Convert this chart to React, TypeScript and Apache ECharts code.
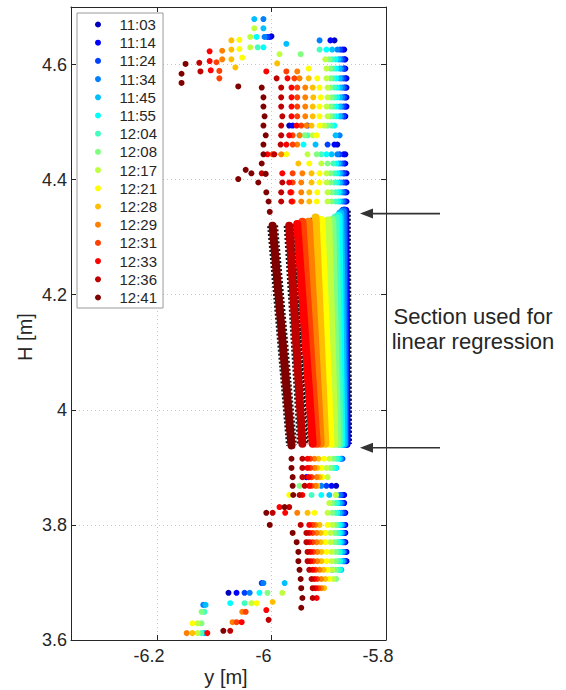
import React, { useEffect, useRef } from "react";
import * as echarts from "echarts";

// ---------- data ----------
const times = ["11:03", "11:14", "11:24", "11:34", "11:45", "11:55", "12:04", "12:08", "12:17", "12:21", "12:28", "12:29", "12:31", "12:33", "12:36", "12:41"];

// jet(16) colour map
const colors = ["#0000BF", "#0000FF", "#0040FF", "#0080FF", "#00BFFF", "#00FFFF", "#40FFBF", "#80FF80", "#BFFF40", "#FFFF00", "#FFBF00", "#FF8000", "#FF4000", "#FF0000", "#BF0000", "#800000"];

// Upper measurement rows (H, m)
const upperH = [4.642, 4.626, 4.609, 4.593, 4.576, 4.560, 4.543, 4.527, 4.510, 4.494, 4.477, 4.461, 4.444, 4.428, 4.411, 4.395, 4.378, 4.362];
// y positions (m) of each series on the upper rows
const upperY: (number | null)[][] = [
  [-5.890, -5.873, -5.871, -5.871, -5.869, -5.869, -5.869, -5.869, -5.871, -5.969, null, -5.885, -5.871, -5.871, -5.869, -5.869, -5.869, -5.869],
  [-5.897, -5.876, -5.873, -5.873, -5.871, -5.871, -5.871, -5.871, -5.873, -5.963, null, -5.890, -5.874, -5.873, -5.873, -5.871, -5.871, -5.871],
  [null, -5.880, -5.876, -5.874, -5.874, -5.873, -5.873, -5.874, -5.874, -5.937, null, -5.902, -5.881, -5.876, -5.874, -5.874, -5.873, -5.873],
  [-5.916, -5.885, -5.880, -5.878, -5.878, -5.876, -5.876, -5.878, -5.878, null, -5.881, null, -5.885, -5.880, -5.878, -5.878, -5.876, -5.876],
  [null, -5.894, -5.883, -5.881, -5.881, -5.880, -5.880, -5.881, -5.881, null, -5.888, -5.923, -5.895, -5.883, -5.881, -5.881, -5.880, -5.880],
  [null, -5.904, -5.888, -5.887, -5.887, -5.885, -5.885, -5.887, -5.887, -5.890, -5.951, -5.944, -5.904, -5.887, -5.885, -5.885, -5.883, -5.883],
  [null, -5.916, -5.894, -5.892, -5.892, -5.890, -5.890, -5.892, -5.892, -5.895, -5.937, null, -5.913, -5.892, -5.890, -5.890, -5.888, -5.888],
  [null, null, -5.899, -5.897, -5.897, -5.897, -5.895, -5.897, -5.897, -5.902, -5.942, null, -5.921, -5.902, -5.897, -5.897, -5.895, -5.895],
  [null, null, -5.906, -5.904, -5.904, -5.902, -5.902, -5.904, -5.902, -5.908, -5.928, null, -5.937, -5.913, -5.904, -5.904, -5.902, -5.902],
  [null, null, null, -5.935, -5.920, -5.916, -5.914, -5.916, -5.916, -5.916, -5.921, null, -5.974, -5.934, -5.916, -5.916, -5.920, -5.921],
  [null, null, null, null, -5.935, -5.928, -5.927, -5.928, -5.928, -5.930, null, null, null, -5.953, -5.930, -5.930, -5.934, -5.934],
  [null, null, null, null, -5.951, -5.941, -5.941, -5.941, -5.941, -5.939, -5.951, -5.955, -5.983, null, -5.946, -5.948, -5.948, -5.948],
  [null, null, null, null, -5.960, -5.955, -5.955, -5.955, -5.955, -5.948, -5.963, -5.963, -5.998, null, -5.963, -5.963, -5.965, -5.963],
  [null, null, null, null, -5.972, -5.965, -5.965, -5.965, -5.965, -5.956, -5.969, -5.974, -6.007, null, -5.981, -5.969, -5.967, -5.965],
  [null, null, null, null, -5.991, -5.983, -5.983, -5.983, -5.981, -5.983, -5.983, -5.984, -5.995, null, -6.017, -5.981, -5.983, -5.983],
  [null, null, null, null, null, -6.017, -6.014, -6.014, -6.012, -6.014, -6.010, -6.014, -6.014, -6.017, -6.035, -6.023, -6.009, -6.005],
];

// Lower measurement rows (H, m)
const lowerH = [3.915, 3.899, 3.883, 3.868, 3.852, 3.838, 3.821, 3.800, 3.786, 3.770, 3.753, 3.737, 3.722, 3.706, 3.690, 3.673, 3.656];
const lowerY: (number | null)[][] = [
  [null, null, null, -5.887, -5.873, -5.873, -5.871, -5.871, -5.871, -5.871, -5.869, -5.869, null, null, null, null, null],
  [null, null, -5.939, -5.895, -5.874, -5.874, -5.873, -5.873, -5.873, -5.873, -5.871, -5.871, null, null, null, null, null],
  [-5.876, null, null, -5.904, -5.878, -5.876, -5.874, -5.874, -5.874, -5.874, -5.873, -5.873, null, null, null, null, null],
  [-5.878, null, null, -5.913, -5.881, -5.878, -5.878, -5.876, -5.876, -5.876, -5.874, -5.874, -5.894, null, null, null, null],
  [-5.880, -5.887, null, null, -5.899, -5.881, -5.881, -5.878, -5.878, -5.878, -5.876, -5.876, -5.878, null, null, null, null],
  [-5.883, -5.888, null, null, -5.913, -5.885, -5.885, -5.881, -5.881, -5.881, -5.880, -5.880, -5.880, null, null, null, null],
  [-5.887, -5.892, null, null, -5.930, -5.888, -5.888, -5.885, -5.885, -5.885, -5.883, -5.883, -5.883, null, null, null, null],
  [-5.892, -5.897, null, -5.951, -5.887, -5.894, -5.894, -5.888, -5.890, -5.890, -5.888, -5.888, -5.888, -5.887, null, null, null],
  [-5.899, -5.904, -5.902, null, -5.888, -5.899, -5.902, -5.894, -5.897, -5.897, -5.895, -5.895, -5.894, -5.892, null, null, null],
  [-5.908, -5.913, -5.911, null, -5.969, null, -5.925, -5.902, -5.906, -5.906, -5.904, -5.904, -5.902, -5.899, null, null, null],
  [-5.918, -5.920, -5.916, -5.920, null, null, -5.937, -5.916, -5.914, -5.914, -5.913, -5.913, -5.909, -5.906, -5.908, null, null],
  [-5.925, -5.925, -5.921, -5.923, null, null, -5.955, -5.923, -5.921, -5.921, -5.920, -5.920, -5.916, -5.913, -5.913, null, null],
  [-5.932, -5.932, -5.930, -5.930, null, null, null, -5.928, -5.928, -5.928, -5.927, -5.927, -5.923, -5.920, -5.918, null, null],
  [-5.937, -5.937, -5.935, -5.934, -5.946, null, -5.976, -5.934, -5.934, -5.934, -5.932, -5.932, -5.928, -5.925, -5.923, -5.921, null],
  [-5.946, -5.946, -5.946, -5.942, -5.951, null, -5.998, -5.949, -5.939, -5.939, -5.937, -5.937, -5.934, -5.930, -5.928, -5.928, null],
  [-5.965, -5.965, -5.963, -5.963, -5.962, null, -6.009, -6.003, -5.963, -5.956, -5.953, -5.953, -5.951, -5.949, -5.948, -5.946, -5.948],
];

// Isolated points (crest wing and toe) as [y, H]
const extraPoints: number[][][] = [
  [[-6.000, 4.649], [-6.075, 3.682]],
  [[-6.003, 4.648], [-6.061, 3.682]],
  [[-6.007, 4.648], [-6.017, 3.699], [-6.047, 3.682]],
  [[-6.014, 4.679], [-6.012, 4.648], [-6.014, 3.699], [-6.038, 3.682], [-6.119, 3.661]],
  [[-6.030, 4.679], [-6.014, 4.663], [-5.974, 4.636], [-5.977, 3.699], [-6.115, 3.661], [-6.117, 3.612]],
  [[-6.026, 4.648], [-6.014, 4.630], [-6.021, 3.682], [-6.072, 3.664]],
  [[-6.024, 4.630], [-6.047, 3.664], [-6.117, 3.649], [-6.122, 3.612]],
  [[-5.949, 4.618], [-6.007, 3.682], [-6.122, 3.649], [-6.122, 3.629]],
  [[-6.030, 4.663], [-6.037, 4.648], [-6.037, 4.630], [-5.986, 4.618], [-5.981, 3.682], [-6.035, 3.664], [-6.129, 3.629], [-6.129, 3.612]],
  [[-6.056, 4.643], [-6.056, 4.627], [-6.051, 4.612], [-6.026, 3.664], [-6.138, 3.629]],
  [[-6.070, 4.642], [-6.070, 4.626], [-6.070, 4.609], [-6.063, 4.595], [-5.990, 4.602], [-5.998, 3.666], [-6.138, 3.612]],
  [[-6.086, 4.624], [-6.086, 4.609], [-5.955, 4.588], [-6.051, 3.649], [-6.068, 3.631], [-6.148, 3.612]],
  [[-6.096, 4.604], [-6.091, 4.589], [-6.091, 4.576], [-5.974, 4.588], [-6.045, 3.649], [-6.061, 3.631]],
  [[-6.108, 4.623], [-6.108, 4.606], [-6.106, 4.590], [-6.009, 4.588], [-5.986, 3.831], [-6.009, 3.652], [-6.052, 3.631], [-6.112, 3.612]],
  [[-6.126, 4.603], [-6.124, 4.588], [-5.969, 3.831], [-6.005, 3.635], [-6.072, 3.616]],
  [[-6.150, 4.601], [-6.157, 4.584], [-6.157, 4.568], [-6.058, 4.562], [-6.045, 4.417], [-6.010, 4.410], [-6.058, 4.401], [-6.003, 4.344], [-5.977, 3.831], [-6.084, 3.616]],
];

// Dense regression section of each profile: top and bottom ends
const sectionTopY = [-5.871, -5.873, -5.874, -5.876, -5.880, -5.883, -5.888, -5.894, -5.901, -5.913, -5.923, -5.935, -5.946, -5.955, -5.969, -5.998];
const sectionTopH = [4.346, 4.346, 4.346, 4.344, 4.341, 4.337, 4.334, 4.330, 4.329, 4.330, 4.334, 4.327, 4.327, 4.323, 4.320, 4.320];
const sectionBottomY = [-5.869, -5.869, -5.871, -5.873, -5.874, -5.878, -5.881, -5.885, -5.890, -5.897, -5.906, -5.914, -5.921, -5.928, -5.946, -5.965];
const sectionBottomH = [3.941, 3.941, 3.941, 3.941, 3.941, 3.941, 3.941, 3.941, 3.941, 3.941, 3.941, 3.941, 3.941, 3.941, 3.941, 3.938];

// Limits of the section used for the linear regression (arrows)
const regressionLimits = [4.341, 3.934];

const FONT = '"Liberation Sans", Arial, sans-serif';
const INK = "#262626";

export default function App() {
  const ref = useRef<HTMLDivElement>(null);

  useEffect(() => {
    if (!ref.current) return;
    const chart = echarts.init(ref.current, undefined, { renderer: "svg" });

    const series: any[] = [];
    times.forEach((t, i) => {
      series.push({
        type: "line",
        data: [[sectionTopY[i], sectionTopH[i]], [sectionBottomY[i], sectionBottomH[i]]],
        symbol: "none",
        silent: true,
        z: 1,
        lineStyle: { color: "#151515", width: 11, type: [2, 2], cap: "butt" },
      });
    });
    times.forEach((t, i) => {
      series.push({
        type: "line",
        data: [[sectionTopY[i], sectionTopH[i]], [sectionBottomY[i], sectionBottomH[i]]],
        symbol: "none",
        silent: true,
        z: 2,
        lineStyle: { color: colors[i], width: 8, cap: "round" },
      });
    });
    times.forEach((t, i) => {
      const pts: number[][] = [];
      upperH.forEach((h, r) => {
        const y = upperY[i][r];
        if (y !== null) pts.push([y, h]);
      });
      lowerH.forEach((h, r) => {
        const y = lowerY[i][r];
        if (y !== null) pts.push([y, h]);
      });
      extraPoints[i].forEach((p) => pts.push(p));
      series.push({
        type: "scatter",
        name: t,
        data: pts,
        symbol: "circle",
        symbolSize: 6,
        z: 3,
        itemStyle: { color: colors[i], opacity: 1 },
      });
    });

    const axisCommon = {
      axisLine: { show: true, onZero: false, lineStyle: { color: INK, width: 1 } },
      axisTick: { show: true, inside: true, length: 5, lineStyle: { color: INK } },
    };

    chart.setOption({
      animation: false,
      grid: { left: 71, right: 180, top: 7, bottom: 50, containLabel: false },
      legend: {
        data: times.map((t) => ({ name: t, icon: "circle" })),
        orient: "vertical",
        left: 77,
        top: 13,
        padding: [4, 6, 3, 18],
        itemWidth: 33,
        itemHeight: 6,
        itemGap: 3.2,
        selectedMode: false,
        borderColor: "#9a9a9a",
        borderWidth: 1,
        backgroundColor: "#ffffff",
        textStyle: { fontFamily: FONT, fontSize: 15, lineHeight: 15, color: INK },
      },
      xAxis: [
        {
          type: "value",
          min: -6.35,
          max: -5.8,
          splitNumber: 3,
          ...axisCommon,
          axisLabel: { showMinLabel: false, fontFamily: FONT, fontSize: 18, color: INK, margin: 7, padding: [0, 16, 0, 0] },
          splitLine: { show: true, lineStyle: { color: "#c8c8c8", type: [1, 3], width: 1 } },
        },
        {
          type: "value",
          position: "top",
          min: -6.35,
          max: -5.8,
          splitNumber: 3,
          ...axisCommon,
          axisLabel: { show: false },
          splitLine: { show: false },
        },
      ],
      yAxis: [
        {
          type: "value",
          min: 3.6,
          max: 4.7,
          interval: 0.2,
          ...axisCommon,
          axisLabel: { showMaxLabel: false, fontFamily: FONT, fontSize: 18, color: INK, margin: 4 },
          splitLine: { show: true, lineStyle: { color: "#c8c8c8", type: [1, 3], width: 1 } },
        },
        {
          type: "value",
          position: "right",
          min: 3.6,
          max: 4.7,
          interval: 0.2,
          ...axisCommon,
          axisLabel: { show: false },
          splitLine: { show: false },
        },
      ],
      series,
    });

    const yTop = (chart.convertToPixel({ gridIndex: 0 }, [-5.8, regressionLimits[0]]) as number[])[1];
    const yBot = (chart.convertToPixel({ gridIndex: 0 }, [-5.8, regressionLimits[1]]) as number[])[1];
    const arrow = (y: number) => [
      { type: "line", shape: { x1: 371, y1: y, x2: 440, y2: y }, style: { stroke: "#333", lineWidth: 1.6 }, z: 10 },
      { type: "polygon", shape: { points: [[360, y], [373, y - 5], [373, y + 5]] }, style: { fill: "#333" }, z: 10 },
    ];
    const txt = (text: string, x: number, y: number, size: number, rotation = 0) => ({
      type: "text",
      x,
      y,
      rotation,
      style: {
        text,
        font: `${size}px ${FONT}`,
        fill: INK,
        align: "center",
        verticalAlign: "middle",
        textAlign: "center",
        textVerticalAlign: "middle",
      },
    });

    chart.setOption({
      graphic: [
        txt("H [m]", 25, 337, 20, Math.PI / 2),
        txt("y [m]", 226, 677, 20),
        txt("Section used for", 473, 316, 22),
        txt("linear regression", 473, 341, 22),
        ...arrow(yTop),
        ...arrow(yBot),
      ],
    });

    return () => chart.dispose();
  }, []);

  return (
    <div
      ref={ref}
      style={{ position: "fixed", left: 0, top: 0, width: 566, height: 690, background: "#ffffff" }}
    />
  );
}
